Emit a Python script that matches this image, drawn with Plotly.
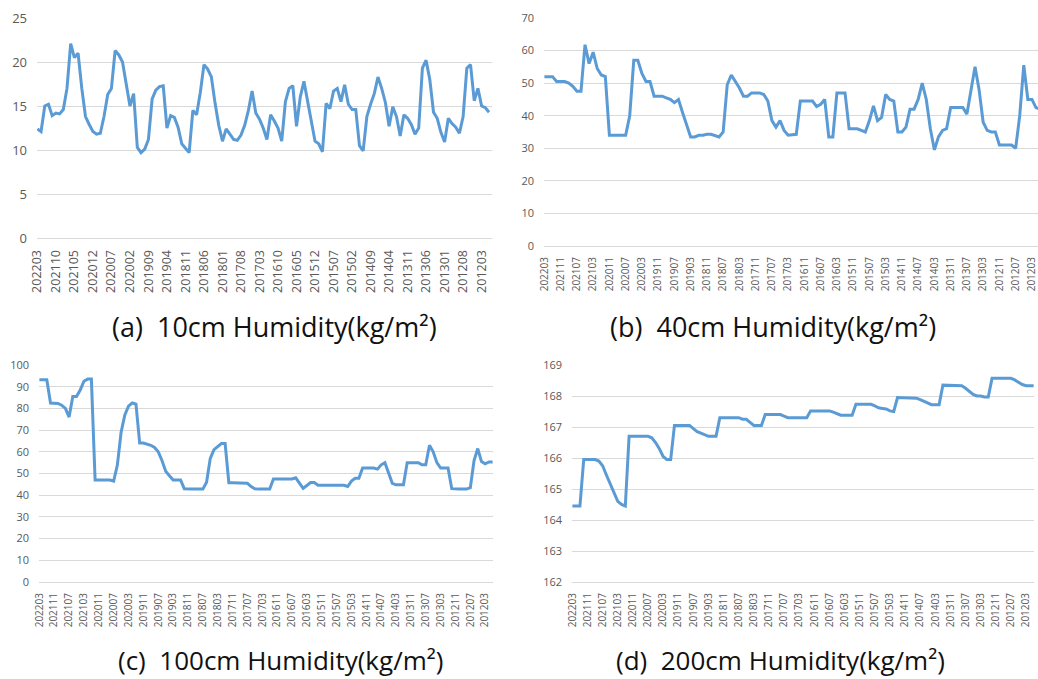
import plotly.graph_objects as go

# month categories, newest first (202203 ... 201201)
months = []
for i in range(123):
    m = 2022 * 12 + 2 - i
    months.append(f"{m // 12}{m % 12 + 1:02d}")

hum_10cm = [12.4, 12.1, 15.0, 15.2, 13.9, 14.2, 14.1, 14.6, 17.0, 22.1,
            20.5, 21.0, 17.0, 13.8, 12.9, 12.1, 11.8, 11.9, 13.8, 16.3,
            17.0, 21.3, 20.8, 20.0, 17.5, 15.0, 16.4, 10.3, 9.7, 10.1,
            11.2, 15.8, 16.8, 17.2, 17.3, 12.5, 13.9, 13.7, 12.6, 10.7,
            10.2, 9.7, 14.5, 14.0, 16.5, 19.7, 19.2, 18.3, 15.3, 12.8,
            11.0, 12.4, 11.8, 11.2, 11.1, 11.7, 12.8, 14.5, 16.7, 14.2,
            13.5, 12.5, 11.2, 14.0, 13.3, 12.5, 11.0, 15.5, 17.0, 17.3,
            12.7, 16.0, 17.8, 15.5, 13.0, 11.0, 10.7, 9.8, 15.3, 14.7,
            16.7, 17.0, 15.5, 17.4, 15.2, 14.6, 14.6, 10.5, 9.9, 13.8,
            15.2, 16.4, 18.3, 17.0, 15.4, 12.7, 14.9, 13.8, 11.6, 14.0,
            13.6, 12.9, 11.8, 12.5, 19.3, 20.2, 18.0, 14.3, 13.6, 12.0,
            10.9, 13.6, 13.0, 12.6, 11.9, 13.8, 19.3, 19.7, 15.6, 17.0,
            15.0, 14.8, 14.3]

hum_40cm = [52.0, 52.0, 52.0, 50.5, 50.5, 50.5, 50.0, 49.0, 47.5, 47.5,
            61.8, 56.0, 59.5, 54.5, 52.5, 52.0, 34.0, 34.0, 34.0, 34.0,
            34.0, 40.0, 57.0, 57.0, 53.0, 50.5, 50.5, 46.0, 46.0, 46.0,
            45.5, 45.0, 44.0, 45.0, 41.0, 37.5, 33.5, 33.5, 34.0, 34.0,
            34.3, 34.3, 33.8, 33.5, 35.0, 49.5, 52.5, 50.5, 48.5, 46.0,
            46.0, 47.0, 47.0, 47.0, 46.5, 44.5, 38.5, 36.5, 38.5, 35.5,
            34.0, 34.2, 34.3, 44.5, 44.5, 44.5, 44.5, 42.8, 43.5, 45.0,
            33.5, 33.5, 47.0, 47.0, 47.0, 36.0, 36.0, 36.0, 35.5, 35.0,
            38.5, 43.0, 38.5, 39.5, 46.5, 45.0, 44.5, 35.0, 35.0, 36.5,
            42.0, 42.0, 45.0, 50.0, 45.0, 36.0, 29.5, 33.5, 35.5, 36.0,
            42.5, 42.5, 42.5, 42.5, 40.5, 48.0, 55.0, 48.0, 38.0, 35.5,
            35.0, 35.0, 31.0, 31.0, 31.0, 31.0, 30.0, 40.0, 55.5, 45.0,
            45.0, 42.5, 42.0]

hum_100cm = [93.2, 93.2, 93.2, 82.5, 82.5, 82.3, 81.5, 80.0, 76.0, 85.5,
             85.5, 88.5, 92.5, 93.5, 93.5, 47.0, 47.0, 47.0, 47.0, 47.0,
             46.5, 54.0, 69.0, 77.0, 81.0, 82.5, 82.0, 64.0, 64.0, 63.5,
             63.0, 62.0, 60.0, 56.0, 51.0, 49.0, 47.0, 47.0, 47.0, 43.0,
             42.8, 42.8, 42.8, 42.8, 42.8, 46.0, 57.0, 61.0, 62.5, 63.8,
             63.8, 45.7, 45.7, 45.7, 45.7, 45.7, 45.5, 44.0, 43.0, 42.8,
             42.8, 42.8, 42.8, 47.5, 47.5, 47.5, 47.5, 47.5, 47.5, 48.0,
             45.5, 43.2, 44.5, 45.8, 45.8, 44.6, 44.6, 44.6, 44.6, 44.6,
             44.6, 44.6, 44.6, 44.0, 46.5, 47.8, 47.8, 52.5, 52.5, 52.5,
             52.5, 52.0, 54.0, 55.0, 50.5, 45.5, 44.8, 44.8, 44.8, 55.0,
             55.0, 55.0, 55.0, 54.0, 54.0, 63.0, 60.0, 55.0, 52.5, 52.5,
             52.5, 43.0, 42.8, 42.8, 42.8, 42.8, 43.5, 56.0, 61.5, 55.5,
             54.5, 55.3, 55.3]

hum_200cm = [164.45, 164.45, 164.45, 165.95, 165.95, 165.95, 165.95, 165.9, 165.75, 165.45,
             165.15, 164.85, 164.6, 164.5, 164.45, 166.7, 166.7, 166.7, 166.7, 166.7,
             166.7, 166.65, 166.5, 166.3, 166.05, 165.95, 165.95, 167.05, 167.05, 167.05,
             167.05, 167.05, 166.95, 166.85, 166.8, 166.75, 166.7, 166.7, 166.7, 167.3,
             167.3, 167.3, 167.3, 167.3, 167.3, 167.25, 167.25, 167.15, 167.05, 167.05,
             167.05, 167.4, 167.4, 167.4, 167.4, 167.4, 167.35, 167.3, 167.3, 167.3,
             167.3, 167.3, 167.3, 167.52, 167.52, 167.52, 167.52, 167.52, 167.52, 167.48,
             167.42, 167.38, 167.38, 167.38, 167.38, 167.73, 167.73, 167.73, 167.73, 167.73,
             167.68, 167.62, 167.6, 167.58, 167.52, 167.5, 167.95, 167.95, 167.95, 167.95,
             167.95, 167.93, 167.88, 167.82, 167.77, 167.72, 167.72, 167.72, 168.35, 168.35,
             168.35, 168.35, 168.35, 168.33, 168.25, 168.15, 168.05, 168.0, 168.0, 167.97,
             167.97, 168.57, 168.57, 168.57, 168.57, 168.57, 168.57, 168.52, 168.43, 168.37,
             168.33, 168.33, 168.33]

captions = ["(a)\u00a0\u00a010cm Humidity(kg/m\u00b2)",
            "(b)\u00a0\u00a040cm Humidity(kg/m\u00b2)",
            "(c)\u00a0\u00a0100cm Humidity(kg/m\u00b2)",
            "(d)\u00a0\u00a0200cm Humidity(kg/m\u00b2)"]

W, H = 1038, 679
LINE = "#5B9BD5"
GRID = "#D9D9D9"
TICK = "#595959"
FONT = "Open Sans"

fig = go.Figure()
series = [hum_10cm, hum_40cm, hum_100cm, hum_200cm]
for k, vals in enumerate(series):
    sfx = "" if k == 0 else str(k + 1)
    fig.add_trace(go.Scatter(x=months, y=vals, mode="lines",
                             line=dict(color=LINE, width=3),
                             xaxis="x" + sfx, yaxis="y" + sfx,
                             showlegend=False, hoverinfo="x+y"))

# panel geometry in pixels: (x0, x1, ytop, ybottom)
panels = [(37, 492, 18, 238), (544, 1038, 18, 246),
          (39, 493, 365, 582), (572, 1034, 365, 582)]
yranges = [[0, 25], [0, 70], [0, 100], [162, 169]]
ydticks = [5, 10, 10, 1]
xranges = [[-0.1, 122.8], [-0.1, 121.5], [-0.1, 122.1], [-0.1, 122.1]]
xsteps = [5, 4, 4, 4]
xfs = [12.5, 10, 10, 10]
yfs = [13, 11, 11, 11]

layout = dict(width=W, height=H, margin=dict(l=0, r=0, t=0, b=0, autoexpand=False),
              paper_bgcolor="white", plot_bgcolor="white",
              font=dict(family=FONT, color=TICK))
for k, (x0, x1, yt, yb) in enumerate(panels):
    sfx = "" if k == 0 else str(k + 1)
    tv = months[::xsteps[k]]
    layout["xaxis" + sfx] = dict(
        domain=[x0 / W, x1 / W], anchor="y" + sfx, type="category",
        range=xranges[k], tickmode="array", tickvals=tv, ticktext=tv,
        tickangle=-90, tickfont=dict(size=xfs[k], color=TICK, family=FONT),
        showgrid=False, showline=True, linecolor=GRID, linewidth=1,
        ticks="", zeroline=False, ticklabelstandoff=6, fixedrange=True,
        automargin=False)
    layout["yaxis" + sfx] = dict(
        domain=[1 - yb / H, 1 - yt / H], anchor="x" + sfx,
        range=yranges[k], dtick=ydticks[k], tick0=0,
        tickfont=dict(size=yfs[k], color=TICK, family=FONT),
        showgrid=True, gridcolor=GRID, gridwidth=1, showline=False,
        zeroline=False, ticks="", ticklabelstandoff=9, fixedrange=True,
        automargin=False)

cap_pos = [(274, 326), (773, 326), (280, 660), (780, 660)]
cap_size = [27, 27, 26, 26]
annotations = []
for (cx, cy), txt, fs in zip(cap_pos, captions, cap_size):
    annotations.append(dict(x=cx / W, y=1 - cy / H, xref="paper", yref="paper",
                            text=txt, showarrow=False, xanchor="center",
                            yanchor="middle",
                            font=dict(family=FONT, size=fs, color="#111111")))
layout["annotations"] = annotations

fig.update_layout(**layout)
fig.write_html("out.html")
